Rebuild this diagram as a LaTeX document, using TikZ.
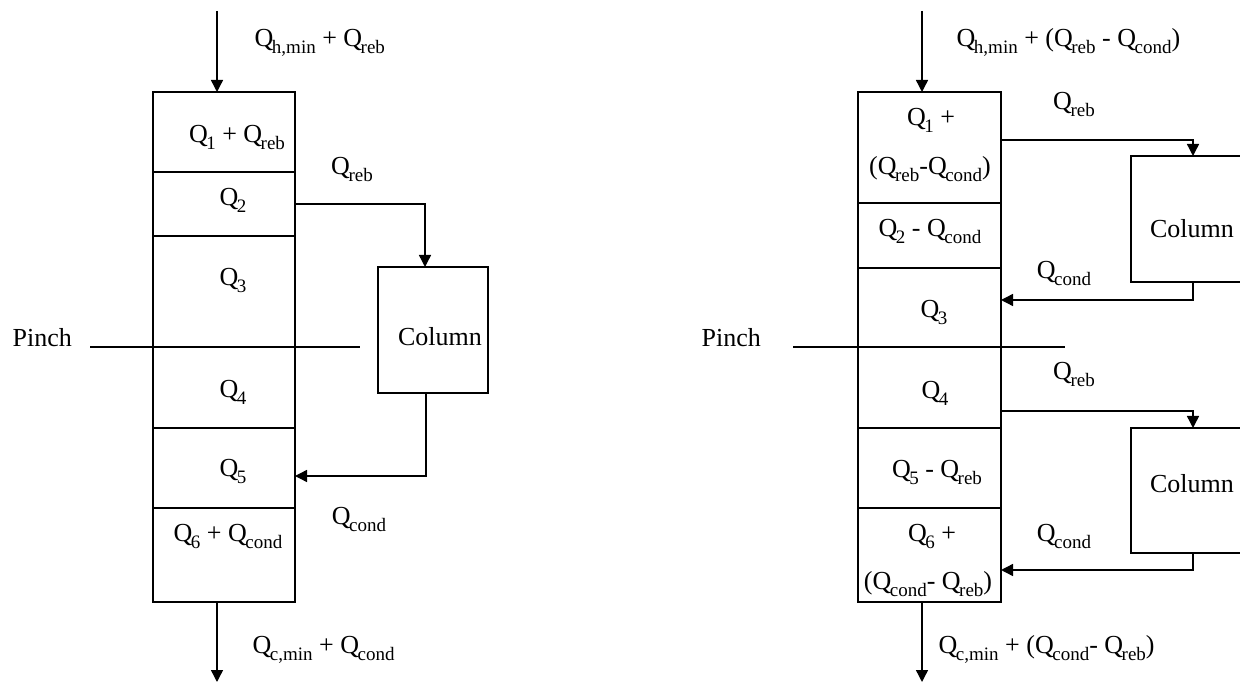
\documentclass[tikz,border=0pt]{standalone}
\usepackage{fontspec}
\setmainfont{Liberation Serif}
\usetikzlibrary{arrows.meta}
\newcommand\sbs[1]{\kern-1.5pt\raisebox{-7pt}{\fontsize{19}{19}\selectfont #1}}
\begin{document}
\begin{tikzpicture}[x=1pt,y=-1pt,
  font=\fontsize{26}{30}\selectfont,
  line width=1.4pt,
  cell/.style={draw, inner sep=0pt, outer sep=0pt},
  colbox/.style={draw, inner sep=0pt, outer sep=0pt},
  txt/.style={inner sep=0pt, anchor=base},
  txtw/.style={inner sep=0pt, anchor=base west},
  flow/.style={-{Triangle[width=12pt,length=12pt]}}]
\useasboundingbox (0,0) rectangle (1240,684);

% ---------------- left diagram ----------------
\node[cell, minimum width=142pt, minimum height=80pt]  (L1) at (224,132) {};
\node[cell, minimum width=142pt, minimum height=64pt]  (L2) at (224,204) {};
\node[cell, minimum width=142pt, minimum height=111pt] (L3) at (224,291.5) {};
\node[cell, minimum width=142pt, minimum height=81pt]  (L4) at (224,387.5) {};
\node[cell, minimum width=142pt, minimum height=80pt]  (L5) at (224,468) {};
\node[cell, minimum width=142pt, minimum height=94pt]  (L6) at (224,555) {};
\node[colbox, minimum width=110pt, minimum height=126pt] (colL) at (433,330) {};

\coordinate (pL1) at (90,347);
\coordinate (pL2) at (360,347);
\draw (pL1) -- (pL2);

\coordinate (tL) at (217,11);
\coordinate (bL) at (217,682);
\draw[flow] (tL) -- (L1.north -| tL);
\draw[flow] (L6.south -| bL) -- (bL);
\draw[flow] (L2.east) -| ([xshift=-8pt]colL.north);
\draw[flow] ([xshift=-7pt]colL.south) |- ([yshift=-8pt]L5.east);

\node[txtw] (tlL) at (254,47) {Q\sbs{h,min} + Q\sbs{reb}};
\node[txt] (tL1) at (237,143) {Q\sbs{1} + Q\sbs{reb}};
\node[txt] (tL2) at (233,206) {Q\sbs{2}};
\node[txt] (tL3) at (233,286) {Q\sbs{3}};
\node[txt] (tL4) at (233,398) {Q\sbs{4}};
\node[txt] (tL5) at (233,476) {Q\sbs{5}};
\node[txt] (tL6) at (228,541) {Q\sbs{6} + Q\sbs{cond}};
\node[txt] (qrL) at (352,175) {Q\sbs{reb}};
\node[txt] (qcL) at (359,524) {Q\sbs{cond}};
\node[txt] (cL) at (440,346) {Column};
\node[txtw] (pinchL) at (12,347) {Pinch};
\node[txtw] (blL) at (252,653) {Q\sbs{c,min} + Q\sbs{cond}};

% ---------------- right diagram ----------------
\node[cell, minimum width=143pt, minimum height=111pt] (R1) at (929.5,147.5) {};
\node[cell, minimum width=143pt, minimum height=65pt]  (R2) at (929.5,235.5) {};
\node[cell, minimum width=143pt, minimum height=79pt]  (R3) at (929.5,307.5) {};
\node[cell, minimum width=143pt, minimum height=81pt]  (R4) at (929.5,387.5) {};
\node[cell, minimum width=143pt, minimum height=80pt]  (R5) at (929.5,468) {};
\node[cell, minimum width=143pt, minimum height=94pt]  (R6) at (929.5,555) {};
\node[colbox, minimum width=124pt, minimum height=126pt] (colR1) at (1193,219) {};
\node[colbox, minimum width=124pt, minimum height=125pt] (colR2) at (1193,490.5) {};

\coordinate (pR1) at (793,347);
\coordinate (pR2) at (1065,347);
\draw (pR1) -- (pR2);

\coordinate (tR) at (922,11);
\coordinate (bR) at (922,682);
\draw[flow] (tR) -- (R1.north -| tR);
\draw[flow] (R6.south -| bR) -- (bR);
\draw[flow] ([yshift=7.5pt]R1.east) -| (colR1.north);
\draw[flow] (colR1.south) |- ([yshift=7.5pt]R3.east);
\draw[flow] ([yshift=-23.5pt]R4.east) -| (colR2.north);
\draw[flow] (colR2.south) |- ([yshift=-15pt]R6.east);

\node[txtw] (tlR) at (956,47) {Q\sbs{h,min} + (Q\sbs{reb} - Q\sbs{cond})};
\node[txt] (tR1a) at (931,126) {Q\sbs{1} +};
\node[txt] (tR1b) at (930,175) {(Q\sbs{reb}-Q\sbs{cond})};
\node[txt] (tR2) at (930,237) {Q\sbs{2} - Q\sbs{cond}};
\node[txt] (tR3) at (934,318) {Q\sbs{3}};
\node[txt] (tR4) at (935,399) {Q\sbs{4}};
\node[txt] (tR5) at (937,478) {Q\sbs{5} - Q\sbs{reb}};
\node[txt] (tR6a) at (932,541) {Q\sbs{6} +};
\node[txt] (tR6b) at (928,589) {(Q\sbs{cond}- Q\sbs{reb})};
\node[txt] (qrR1) at (1074,110) {Q\sbs{reb}};
\node[txt] (qcR1) at (1064,279) {Q\sbs{cond}};
\node[txt] (qrR2) at (1074,380) {Q\sbs{reb}};
\node[txt] (qcR2) at (1064,541) {Q\sbs{cond}};
\node[txt] (cR1) at (1192,238) {Column};
\node[txt] (cR2) at (1192,493) {Column};
\node[txtw] (pinchR) at (701,347) {Pinch};
\node[txtw] (blR) at (938,653) {Q\sbs{c,min} + (Q\sbs{cond}- Q\sbs{reb})};
\end{tikzpicture}
\end{document}
